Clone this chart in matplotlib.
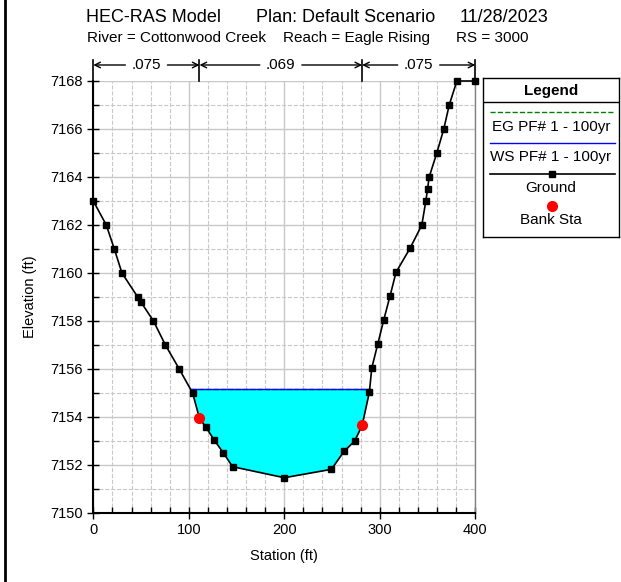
import numpy as np
import matplotlib
matplotlib.use("Agg")
from matplotlib import pyplot as plt
from matplotlib.lines import Line2D

plt.rcParams['font.family'] = ['Liberation Sans', 'DejaVu Sans']

# ground profile (station, elevation)
station = [0, 13.6, 22, 30, 46.5, 49.7, 63, 75.5, 90, 104, 111.2, 118, 126.4,
           136.3, 145.8, 200, 249.3, 262.6, 273.7, 281.5, 289.1, 291.6, 297.8,
           304.1, 310.7, 317, 331.8, 344, 348.2, 350, 351.7, 359.7, 367, 372.7,
           380.7, 400]
elevation = [7163, 7162, 7161, 7160, 7159, 7158.8, 7158, 7157, 7156, 7155,
             7153.94, 7153.57, 7153.05, 7152.5, 7151.93, 7151.47, 7151.82,
             7152.57, 7153.0, 7153.65, 7155.04, 7156.04, 7157.03, 7158.04,
             7159.04, 7160.03, 7161.04, 7162, 7163, 7163.5, 7164, 7165, 7166,
             7167, 7168, 7168]
bank_sta = [111.2, 281.5]
bank_elev = [7153.94, 7153.65]
ws_elev = 7155.15
eg_elev = 7155.17
mann_n = ['.075', '.069', '.075']
mann_edges = [0, 111.2, 281.5, 400]

fig = plt.figure(figsize=(6.21, 5.82), dpi=100)
W, H = 621, 582
ax = fig.add_axes([93.3 / W, 1 - 513 / H, 382 / W, 432 / H])

sta = np.array(station)
elev = np.array(elevation)

# water fill between ground and water surface
xf = np.linspace(0, 400, 4001)
gf = np.interp(xf, sta, elev)
wet = gf < ws_elev
ax.fill_between(xf, gf, ws_elev, where=wet, color='#00ffff', lw=0, zorder=2)
xw = xf[wet]
ax.plot([xw.min(), xw.max()], [eg_elev, eg_elev], color='#008000', ls='--', lw=1, zorder=3)
ax.plot([xw.min(), xw.max()], [ws_elev, ws_elev], color='#0000ff', lw=1, zorder=3)

ax.plot(sta, elev, color='black', lw=1.2, marker='s', ms=4.5, zorder=4, clip_on=False)
ax.plot(bank_sta, bank_elev, 'o', color='#ff0000', ms=7, zorder=5)

ax.set_xlim(0, 400)
ax.set_ylim(7150, 7168)
ax.set_xticks(np.arange(0, 401, 100))
ax.set_xticks(np.arange(0, 401, 20), minor=True)
ax.set_yticks(np.arange(7150, 7169, 2))
ax.set_yticks(np.arange(7150, 7169, 1), minor=True)
ax.grid(True, which='major', color='#c8c8c8', lw=1, zorder=0)
ax.grid(True, which='minor', color='#c8c8c8', lw=0.8, ls='--', zorder=0)
ax.set_axisbelow(True)
ax.tick_params(which='major', direction='inout', length=8, labelsize=10.5, width=1)
ax.tick_params(which='minor', direction='in', length=4, width=1)
for s in ['left', 'bottom']:
    ax.spines[s].set_linewidth(1.5)
ax.spines['top'].set_visible(False)
ax.spines['right'].set_linewidth(1)
ax.spines['right'].set_color('#808080')

fig.text(30 / W, 1 - 297 / H, 'Elevation (ft)', rotation=90, ha='center', va='center', fontsize=10.5)
fig.text(284 / W, 1 - 556 / H, 'Station (ft)', ha='center', va='center', fontsize=10.5)

# titles
fig.text(86 / W, 1 - 17 / H, 'HEC-RAS Model', fontsize=13, va='center')
fig.text(256 / W, 1 - 17 / H, 'Plan: Default Scenario', fontsize=13, va='center')
fig.text(460 / W, 1 - 17 / H, '11/28/2023', fontsize=13, va='center')
fig.text(87 / W, 1 - 38 / H, 'River = Cottonwood Creek', fontsize=11, va='center')
fig.text(283 / W, 1 - 38 / H, 'Reach = Eagle Rising', fontsize=11, va='center')
fig.text(456 / W, 1 - 38 / H, 'RS = 3000', fontsize=11, va='center')

# manning's n bar above the plot
tr = ax.get_xaxis_transform()
ya = 1 + 16 / 432
for e in mann_edges:
    ax.plot([e, e], [1, 1 + 21 / 432], color='black', lw=1.2, transform=tr, clip_on=False)
for i, n in enumerate(mann_n):
    x0, x1 = mann_edges[i], mann_edges[i + 1]
    xc = (x0 + x1) / 2
    ax.text(xc, ya, n, transform=tr, ha='center', va='center', fontsize=11)
    gap = 22
    ax.annotate('', xy=(x0, ya), xytext=(xc - gap, ya), xycoords=tr, textcoords=tr,
                arrowprops=dict(arrowstyle='->', lw=1, shrinkA=0, shrinkB=0))
    ax.annotate('', xy=(x1, ya), xytext=(xc + gap, ya), xycoords=tr, textcoords=tr,
                arrowprops=dict(arrowstyle='->', lw=1, shrinkA=0, shrinkB=0))

# legend box drawn in pixel coords
lg = fig.add_axes([483 / W, 1 - 237 / H, 136 / W, 159 / H])
lg.set_xlim(0, 136)
lg.set_ylim(159, 0)
lg.set_xticks([])
lg.set_yticks([])
for s in lg.spines.values():
    s.set_linewidth(1)
lg.plot([0, 136], [24, 24], color='black', lw=1)
lg.text(68, 12.5, 'Legend', ha='center', va='center', fontsize=11, fontweight='bold')
lg.plot([7, 132], [34, 34], color='#008000', ls='--', lw=1)
lg.text(68, 48.5, 'EG PF# 1 - 100yr', ha='center', va='center', fontsize=11)
lg.plot([7, 132], [65, 65], color='#0000ff', lw=1)
lg.text(68, 78.5, 'WS PF# 1 - 100yr', ha='center', va='center', fontsize=11)
lg.plot([7, 132], [96, 96], color='black', lw=1.2)
lg.plot([69], [96], 's', color='black', ms=4.5)
lg.text(68, 109.5, 'Ground', ha='center', va='center', fontsize=11)
lg.plot([69], [127.5], 'o', color='#ff0000', ms=7)
lg.text(68, 142, 'Bank Sta', ha='center', va='center', fontsize=11)

# left border line of the window
fig.add_artist(Line2D([5 / W, 5 / W], [0, 1], color='black', lw=2))

fig.savefig('out.png', dpi=100)
